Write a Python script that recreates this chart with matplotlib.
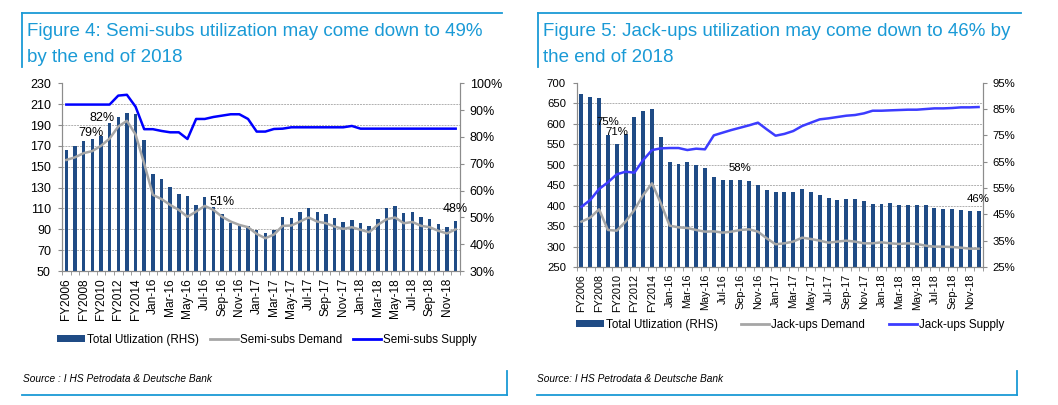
import matplotlib
matplotlib.use('Agg')
import matplotlib.pyplot as plt
from matplotlib.lines import Line2D
from matplotlib.patches import Patch
from matplotlib.ticker import FixedLocator, FuncFormatter
import numpy as np

plt.rcParams['font.family'] = ['Liberation Sans', 'DejaVu Sans']

# ---------------- data ----------------
fy_labels = ['FY2006', 'FY2007', 'FY2008', 'FY2009', 'FY2010', 'FY2011', 'FY2012',
             'FY2013', 'FY2014', 'FY2015']
month_labels = [f'{m}-{y}' for y in ('16', '17', '18')
                for m in ('Jan', 'Feb', 'Mar', 'Apr', 'May', 'Jun',
                          'Jul', 'Aug', 'Sep', 'Oct', 'Nov', 'Dec')]
categories = fy_labels + month_labels

semi_util = [75.1, 76.6, 78.6, 79.1, 80.3, 85.3, 87.4, 89.1, 88.4, 79.0,
             66.0, 64.4, 61.4, 58.7, 57.8, 54.5, 57.6, 54.0, 51.1, 47.8,
             46.8, 46.8, 45.3, 44.3, 45.3, 50.1, 49.8, 51.9, 53.6, 51.9,
             51.4, 49.8, 48.1, 48.9, 47.9, 46.9, 49.5, 53.4, 54.4, 51.6,
             52.1, 50.1, 49.5, 47.4, 46.4, 48.5]
semi_demand = [156.5, 159, 163, 165, 170, 177, 188.5, 194, 181, 153,
               123, 119, 113.4, 108.6, 102, 107, 112.4, 108.6, 102, 97.4,
               94.2, 92, 85.6, 81.4, 85, 93.3, 93.6, 97.4, 101.3, 97.4,
               95.8, 92.6, 90.4, 92, 89.5, 87.2, 94.2, 99.6, 101.3, 95.8,
               97, 93.3, 92, 88.5, 86, 90]
semi_supply = [209.6, 209.6, 209.6, 209.6, 209.6, 209.6, 218.2, 219.0, 207.6, 186.0,
               186.0, 184.3, 183.0, 183.0, 176.6, 195.8, 195.8, 197.7, 199.0, 200.3,
               200.3, 195.8, 183.7, 183.7, 186.2, 186.5, 187.8, 187.8, 187.8, 187.8,
               187.8, 187.8, 187.8, 189.1, 186.5, 186.5, 186.5, 186.5, 186.5, 186.5,
               186.5, 186.5, 186.5, 186.5, 186.5, 186.5]

jack_util = [90.8, 89.7, 89.1, 75.0, 71.7, 75.5, 82.1, 84.2, 84.9, 74.2,
             64.7, 64.1, 64.7, 63.6, 62.6, 59.3, 58.2, 57.9, 58.2, 57.8,
             56.1, 54.2, 53.6, 53.6, 53.5, 54.5, 53.5, 52.5, 51.3, 50.4,
             50.9, 50.8, 50.2, 49.1, 48.8, 49.2, 48.5, 48.5, 48.5, 48.4,
             47.4, 47.0, 47.0, 46.6, 46.3, 46.3]
jack_demand = [360.7, 370.5, 390.9, 340.4, 338.7, 360.7, 389.2, 425.8, 454.3, 405.5,
               350.9, 346.9, 345.2, 340.4, 336.3, 337.1, 333.9, 336.3, 340.4, 342,
               336.3, 320, 305.4, 307.8, 312, 321.6, 318.4, 314.3, 309.4, 312,
               314.3, 312, 307.8, 307.8, 310.3, 307.8, 306.2, 307.8, 306.2, 302.1,
               299.7, 299.7, 298.8, 297.2, 294.8, 294.8]
jack_supply = [397, 413.6, 440.4, 456.7, 476.2, 482.7, 480.3, 511.2, 535.6, 539.7,
               540.5, 540.5, 535.6, 538.9, 537.3, 571.4, 578, 584.5, 590.2, 595.9,
               602.4, 586.1, 570.6, 575, 582, 594.2, 602.4, 610.5, 613, 616.2,
               619.4, 621.1, 625.1, 631.6, 631.6, 632.5, 633.3, 634.1, 634.1, 635.7,
               637.3, 637.3, 638.2, 639.8, 639.8, 640.6]

semi_val_ticks = list(range(50, 231, 20))
semi_pct_ticks = list(range(30, 101, 10))
jack_val_ticks = list(range(250, 701, 50))
jack_pct_ticks = list(range(25, 96, 10))

semi_notes = [('79%', 2.8, 182), ('82%', 4.15, 197), ('51%', 18.0, 116), ('48%', 44.9, 109)]
jack_notes = [('75%', 3.0, 603), ('71%', 4.0, 580), ('58%', 18.0, 492), ('46%', 44.9, 417)]

titles = [['Figure 4: Semi-subs utilization may come down to 49%', 'by the end of 2018'],
          ['Figure 5: Jack-ups utilization may come down to 46% by', 'the end of 2018']]
sources = ['Source : I HS Petrodata & Deutsche Bank', 'Source: I HS Petrodata & Deutsche Bank']
legend_labels = [['Total Utlization (RHS)', 'Semi-subs Demand', 'Semi-subs Supply'],
                 ['Total Utlization (RHS)', 'Jack-ups Demand', 'Jack-ups Supply']]

# ---------------- style ----------------
W, H = 1058, 405
BAR = '#1f4b85'
GRAY = '#a6a6a6'
DB_BLUE = '#1a9ad6'
AXC = '#8c8c8c'

fig = plt.figure(figsize=(W / 100, H / 100), dpi=100)


def fx(x):
    return x / W


def fy(y):
    return 1 - y / H


def panel(rect, util, demand, supply, vt, pt, sup_color, notes, bw, fs, xfs):
    ax = fig.add_axes(rect)
    axv = ax.twinx()
    n = len(categories)
    x = np.arange(n)
    ax.bar(x, util, width=bw, color=BAR, zorder=2)
    ax.set_xlim(-0.5, n - 0.5)
    ax.set_ylim(pt[0], pt[-1])
    axv.set_ylim(vt[0], vt[-1])
    axv.plot(x, demand, color=GRAY, lw=1.8, zorder=3)
    axv.plot(x, supply, color=sup_color, lw=1.8, zorder=3)

    ax.yaxis.tick_right()
    axv.yaxis.tick_left()
    ax.set_yticks(pt)
    ax.yaxis.set_major_formatter(FuncFormatter(lambda v, p: f'{v:.0f}%'))
    axv.set_yticks(vt)
    # gridlines at the left-axis ticks, drawn under the bars
    grid_pos = [pt[0] + (v - vt[0]) / (vt[-1] - vt[0]) * (pt[-1] - pt[0]) for v in vt]
    ax.yaxis.set_minor_locator(FixedLocator(grid_pos))
    ax.grid(True, which='minor', axis='y', color='#b0b0b0', lw=0.7, ls=(0, (2, 1)))
    ax.set_axisbelow(True)
    ax.tick_params(axis='y', which='minor', length=0)
    ax.tick_params(axis='y', which='major', direction='out', length=3, color=AXC,
                   labelsize=fs, pad=4)
    axv.tick_params(axis='y', direction='out', length=3, color=AXC, labelsize=fs, pad=5)

    ax.set_xticks(x[::2])
    ax.set_xticklabels(categories[::2], rotation=90)
    ax.set_xticks(np.arange(-0.5, n, 1), minor=True)
    ax.tick_params(axis='x', which='major', length=0, labelsize=xfs, pad=5)
    ax.tick_params(axis='x', which='minor', length=3, direction='out', color=AXC)

    for a in (ax, axv):
        a.spines['top'].set_visible(False)
        for s in ('left', 'right', 'bottom'):
            a.spines[s].set_color(AXC)
            a.spines[s].set_linewidth(0.8)
    for t, xi, yv in notes:
        axv.text(xi, yv, t, ha='center', va='center', fontsize=fs, color='black', zorder=5)
    return ax, axv


panel([fx(62), fy(271), fx(460) - fx(62), fy(83.3) - fy(271)],
      semi_util, semi_demand, semi_supply, semi_val_ticks, semi_pct_ticks, '#0000ff',
      semi_notes, 0.4, 9, 8.6)
panel([fx(577), fy(267), fx(983) - fx(577), fy(82.7) - fy(267)],
      jack_util, jack_demand, jack_supply, jack_val_ticks, jack_pct_ticks, '#3c3cff',
      jack_notes, 0.45, 8.2, 7.8)

# title boxes and source boxes
frames = [dict(top=(22, 502), vx=22, tx=27, bot=(22, 507), rx=507, sx=23, lx=267, ly=340, cs=0.9),
          dict(top=(538, 1021), vx=538, tx=543, bot=(537, 1017), rx=1017, sx=537, lx=790, ly=325, cs=2.0)]
sup_cols = ['#0000ff', '#3c3cff']
for i, fr in enumerate(frames):
    fig.add_artist(Line2D([fx(fr['top'][0]), fx(fr['top'][1])], [fy(13), fy(13)],
                          color=DB_BLUE, lw=1.3))
    fig.add_artist(Line2D([fx(fr['vx']), fx(fr['vx'])], [fy(13), fy(67)], color=DB_BLUE, lw=1.3))
    fig.text(fx(fr['tx']), fy(36), titles[i][0], fontsize=13.5, color=DB_BLUE, va='baseline')
    fig.text(fx(fr['tx']), fy(62), titles[i][1], fontsize=13.5, color=DB_BLUE, va='baseline')
    fig.add_artist(Line2D([fx(fr['bot'][0]), fx(fr['bot'][1])], [fy(395), fy(395)],
                          color=DB_BLUE, lw=1.3))
    fig.add_artist(Line2D([fx(fr['rx']), fx(fr['rx'])], [fy(371), fy(395)], color=DB_BLUE, lw=1.3))
    fig.text(fx(fr['sx']), fy(381.5), sources[i], fontsize=7.3, style='italic',
             color='black', va='baseline')
    handles = [Patch(facecolor=BAR, edgecolor='none'),
               Line2D([], [], color=GRAY, lw=2.0),
               Line2D([], [], color=sup_cols[i], lw=2.0)]
    fig.legend(handles, legend_labels[i], loc='center', ncol=3, frameon=False,
               bbox_to_anchor=(fx(fr['lx']), fy(fr['ly'])), fontsize=8.4,
               handlelength=2.4, handleheight=0.55, handletextpad=0.2,
               columnspacing=fr['cs'], borderpad=0)

fig.savefig('out.png', dpi=100)
